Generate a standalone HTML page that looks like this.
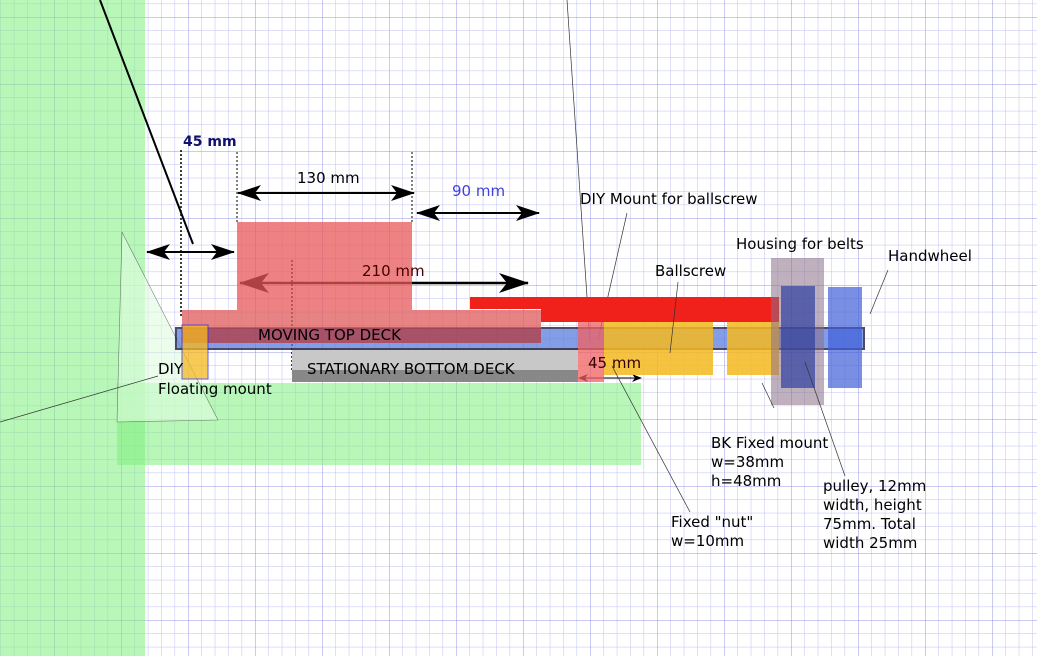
<!DOCTYPE html>
<html><head><meta charset="utf-8"><style>
html,body{margin:0;padding:0;background:#fff;}
svg{display:block;font-family:"DejaVu Sans","Liberation Sans",sans-serif;}
</style></head><body>
<svg width="1037" height="656" viewBox="0 0 1037 656" xmlns="http://www.w3.org/2000/svg">
<defs>
<pattern id="minor" x="-13" y="-50" width="13.4" height="13.4" patternUnits="userSpaceOnUse">
<path d="M0 0H13.4M0 0V13.4" stroke="#c0c0f2" stroke-width="1" fill="none"/>
</pattern>
<pattern id="major" x="-13" y="-50" width="67" height="67" patternUnits="userSpaceOnUse">
<path d="M0 0H67M0 0V67" stroke="#9494e6" stroke-width="1" fill="none"/>
</pattern>
<marker id="ah" viewBox="0 0 24 16" refX="23" refY="8" markerWidth="24" markerHeight="16" markerUnits="userSpaceOnUse" orient="auto-start-reverse"><path d="M0 0L24 8L0 16L6 8Z" fill="#000"/></marker>
<marker id="ahb" viewBox="0 0 30 20" refX="29" refY="10" markerWidth="30" markerHeight="20" markerUnits="userSpaceOnUse" orient="auto-start-reverse"><path d="M0 0L30 10L0 20L8 10Z" fill="#000"/></marker>
<marker id="ahs" viewBox="0 0 10 8" refX="9" refY="4" markerWidth="10" markerHeight="8" markerUnits="userSpaceOnUse" orient="auto-start-reverse"><path d="M0 0L10 4L0 8L3 4Z" fill="#000"/></marker>
</defs>
<rect width="1037" height="656" fill="url(#minor)"/>
<rect width="1037" height="656" fill="url(#major)"/>
<rect x="0" y="0" width="145" height="656" fill="#7ef07e" opacity="0.55"/>
<rect x="117" y="383" width="524" height="82" fill="#7ef07e" opacity="0.55"/>
<polygon points="122,232 218,420 117,422" fill="#e0fce0" opacity="0.6" stroke="#333" stroke-width="0.6"/>
<line x1="100" y1="0" x2="193" y2="244" stroke="#000" stroke-width="2"/>
<line x1="567" y1="0" x2="590" y2="342" stroke="#333" stroke-width="0.7"/>
<line x1="627" y1="213" x2="598" y2="340" stroke="#333" stroke-width="0.7"/>
<line x1="0" y1="422" x2="158" y2="376" stroke="#333" stroke-width="0.7"/>
<g stroke="#000" stroke-width="1.5" stroke-dasharray="2,2">
<line x1="181" y1="150" x2="181" y2="318"/>
<line x1="237" y1="152" x2="237" y2="222" stroke-width="1"/>
<line x1="412" y1="152" x2="412" y2="222" stroke-width="1"/>
<line x1="292" y1="260" x2="292" y2="370"/>
</g>
<g stroke="#000" stroke-width="2" fill="none">
<line x1="147" y1="252" x2="234" y2="252" marker-start="url(#ah)" marker-end="url(#ah)"/>
<line x1="238" y1="193" x2="414" y2="193" marker-start="url(#ah)" marker-end="url(#ah)"/>
<line x1="417" y1="213" x2="539" y2="213" marker-start="url(#ah)" marker-end="url(#ah)"/>
<line x1="240" y1="283" x2="528" y2="283" stroke-width="2.5" marker-start="url(#ahb)" marker-end="url(#ahb)"/>
<line x1="579" y1="378" x2="641" y2="378" stroke-width="1" marker-start="url(#ahs)" marker-end="url(#ahs)"/>
</g>
<rect x="237" y="222" width="175" height="88" fill="#e85858" opacity="0.75"/>
<rect x="470" y="297" width="309" height="12" fill="#f0201a"/>
<rect x="541" y="309" width="238" height="13" fill="#f0201a"/>
<rect x="292" y="348" width="286" height="22" fill="#c8c8c8"/>
<rect x="292" y="370" width="286" height="12" fill="#888"/>
<rect x="176" y="328" width="688" height="21" fill="#5a7ee0" opacity="0.75" stroke="#10103a" stroke-width="2"/>
<rect x="182" y="310" width="359" height="33" fill="#e06060" opacity="0.78"/>
<rect x="182" y="328" width="359" height="15" fill="#602040" opacity="0.35"/>
<rect x="182" y="325" width="26" height="54" fill="#f5b820" opacity="0.75" stroke="#3030e0" stroke-width="1"/>
<rect x="578" y="322" width="26" height="60" fill="#f06060" opacity="0.75"/>
<rect x="604" y="322" width="109" height="53" fill="#f5b820" opacity="0.85"/>
<rect x="727" y="322" width="52" height="53" fill="#f5b820" opacity="0.85"/>
<rect x="771" y="258" width="53" height="147" fill="#8a7088" opacity="0.55"/>
<rect x="781" y="286" width="34" height="102" fill="#3040a0" opacity="0.7"/>
<rect x="828" y="287" width="34" height="101" fill="#4060d8" opacity="0.7"/>
<g stroke="#333" stroke-width="0.7">
<line x1="678" y1="282" x2="670" y2="353"/>
<line x1="888" y1="270" x2="870" y2="314"/>
<line x1="762" y1="383" x2="774" y2="408"/>
<line x1="805" y1="362" x2="845" y2="476"/>
<line x1="612" y1="366" x2="690" y2="512"/>
</g>
<g font-size="15" fill="#000">
<text x="183" y="146" fill="#101070" font-weight="bold" font-size="14">45 mm</text>
<text x="297" y="183">130 mm</text>
<text x="452" y="196" fill="#4040e0">90 mm</text>
<text x="362" y="276" fill="#400">210 mm</text>
<text x="580" y="204">DIY Mount for ballscrew</text>
<text x="736" y="249">Housing for belts</text>
<text x="655" y="276">Ballscrew</text>
<text x="888" y="261">Handwheel</text>
<text x="258" y="340">MOVING TOP DECK</text>
<text x="307" y="374">STATIONARY BOTTOM DECK</text>
<text x="588" y="368" fill="#300">45 mm</text>
<text x="158" y="374">DIY</text>
<text x="158" y="394">Floating mount</text>
<text x="711" y="448">BK Fixed mount</text>
<text x="711" y="467">w=38mm</text>
<text x="711" y="486">h=48mm</text>
<text x="671" y="527">Fixed "nut"</text>
<text x="671" y="546">w=10mm</text>
<text x="823" y="491">pulley, 12mm</text>
<text x="823" y="510">width, height</text>
<text x="823" y="529">75mm. Total</text>
<text x="823" y="548">width 25mm</text>
</g>
</svg>
</body></html>
